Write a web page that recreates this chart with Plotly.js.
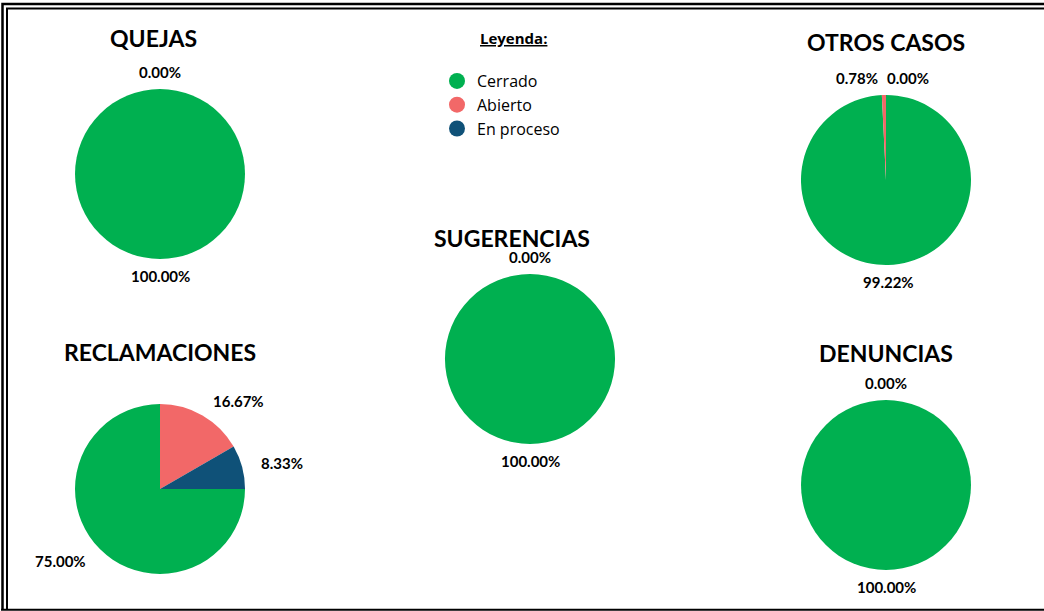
<!DOCTYPE html>
<html><head><meta charset="utf-8">
<script src="https://cdn.plot.ly/plotly-3.0.1.min.js"></script>
<style>html,body{margin:0;padding:0;background:#fff}#chart{width:1044px;height:611px}</style>
</head><body><div id="chart"></div>
<script>
const categories = ['Cerrado', 'Abierto', 'En proceso'];
const colors = ['#00B050', '#F26868', '#0F5178'];
const quejas = [100, 0, 0];
const otrosCasos = [99.22, 0.78, 0];
const sugerencias = [100, 0, 0];
const reclamaciones = [75.00, 16.67, 8.33];
const denuncias = [100, 0, 0];
const chartTitles = ['QUEJAS', 'OTROS CASOS', 'SUGERENCIAS', 'RECLAMACIONES', 'DENUNCIAS'];
const legendTitle = 'Leyenda:';

const W = 1044, H = 611;
const fx = p => p / W, fy = p => 1 - p / H;
const FONT = 'Lato, "Open Sans", sans-serif';

// layout of each pie: centre, radius (px) and start angle
const pies = [
  {vals: quejas, cx: 160, cy: 174, r: 85, rot: 0},
  {vals: otrosCasos, cx: 886, cy: 180, r: 85, rot: 0},
  {vals: sugerencias, cx: 530, cy: 359, r: 85, rot: 0},
  {vals: reclamaciones, cx: 160, cy: 489, r: 85, rot: 90},
  {vals: denuncias, cx: 886, cy: 485, r: 85, rot: 0}
];
function dom(p) { return {x: [fx(p.cx - p.r), fx(p.cx + p.r)], y: [fy(p.cy + p.r), fy(p.cy - p.r)]}; }

const data = pies.map(p => ({type: 'pie', values: p.vals, labels: categories, marker: {colors: colors},
  sort: false, direction: 'clockwise', rotation: p.rot, domain: dom(p), textinfo: 'none',
  showlegend: false, hoverinfo: 'label+percent', automargin: false}));
categories.forEach((c, i) => data.push({type: 'scatter', x: [null], y: [null], mode: 'markers',
  name: c, marker: {color: colors[i], size: 16, symbol: 'circle'}, showlegend: true, hoverinfo: 'skip'}));

// percentage labels placed outside each slice, at its middle angle
function sliceLabels(p) {
  const total = p.vals.reduce((a, b) => a + b, 0);
  let cum = 0; const out = [];
  p.vals.forEach(v => {
    const frac = v / total;
    const a = (p.rot + (cum + frac / 2) * 360) * Math.PI / 180;
    cum += frac;
    const R = p.r + 17, s = Math.sin(a);
    out.push({x: p.cx + R * s, y: p.cy - R * Math.cos(a), s: s,
      xanchor: Math.abs(s) < 0.05 ? 'center' : (s > 0 ? 'left' : 'right'),
      text: (frac * 100).toFixed(2) + '%'});
  });
  const keep = [];
  out.forEach(l => {
    const clash = keep.find(k => Math.abs(k.x - l.x) < 10 && Math.abs(k.y - l.y) < 10);
    if (!clash) { keep.push(l); return; }
    if (clash.text === l.text) return;
    const mx = (clash.x + l.x) / 2;
    clash.x = mx - 5; clash.xanchor = 'right';
    l.x = mx; l.xanchor = 'left';
    keep.push(l);
  });
  return keep;
}

const annotations = [];
const titlePos = [[153, 38], [886, 42], [512, 238], [160, 352], [886, 353]];
chartTitles.forEach((t, i) => annotations.push({text: '<b>' + t + '</b>', x: fx(titlePos[i][0]), y: fy(titlePos[i][1]),
  xref: 'paper', yref: 'paper', xanchor: 'center', yanchor: 'middle', showarrow: false,
  font: {family: FONT, size: 23, color: '#000'}}));
pies.forEach(p => sliceLabels(p).forEach(l => annotations.push({text: '<b>' + l.text + '</b>',
  x: fx(l.x), y: fy(l.y), xref: 'paper', yref: 'paper', xanchor: l.xanchor, yanchor: 'middle', showarrow: false,
  font: {family: FONT, size: 15, color: '#000'}})));
annotations.push({text: '<b><u>' + legendTitle + '</u></b>', x: fx(513), y: fy(38), xref: 'paper', yref: 'paper',
  xanchor: 'center', yanchor: 'middle', showarrow: false, font: {family: '"Open Sans", sans-serif', size: 15, color: '#000'}});

const line = (path, w) => ({type: 'path', xref: 'paper', yref: 'paper', path: path, line: {color: '#000', width: w}});
function P(pts) { return 'M' + pts.map(q => fx(q[0]) + ',' + fy(q[1])).join('L'); }
const shapes = [
  line(P([[2.5, 609.5], [2.5, 4], [1050, 4]]), 2.5),
  line(P([[7, 609.5], [7, 8.5], [1050, 8.5]]), 2),
  line(P([[1, 609.8], [1050, 609.8]]), 2)
];

const layout = {
  width: W, height: H, margin: {l: 0, r: 0, t: 0, b: 0}, paper_bgcolor: '#fff', plot_bgcolor: '#fff',
  xaxis: {visible: false, domain: [0, 0.01]}, yaxis: {visible: false, domain: [0, 0.01]},
  showlegend: true,
  legend: {x: fx(437), y: fy(64), xanchor: 'left', yanchor: 'top', font: {family: '"Open Sans", sans-serif', size: 16, color: '#000'},
    bgcolor: 'rgba(0,0,0,0)', itemclick: false, itemdoubleclick: false},
  annotations: annotations, shapes: shapes
};
Plotly.newPlot('chart', data, layout, {displayModeBar: false, staticPlot: true});
</script></body></html>
